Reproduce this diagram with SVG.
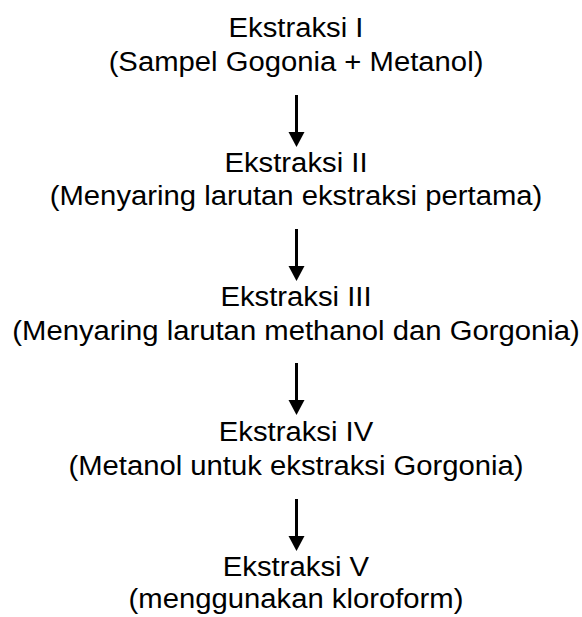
<svg xmlns="http://www.w3.org/2000/svg" width="582" height="617" viewBox="0 0 582 617">
  <style>
    .lbl { font-family: "Liberation Sans", Arial, Helvetica, sans-serif; font-size: 28px; fill: #000; text-anchor: middle; }
    .shaft { stroke: #000; stroke-width: 3; fill: none; }
    .head { fill: #000; stroke: none; }
  </style>
  <rect x="0" y="0" width="582" height="617" fill="#fff"/>
  <g transform="translate(296,0) scale(1.045,1)">
    <g id="node1">
      <text class="lbl" x="0" y="36.8">Ekstraksi I</text>
      <text class="lbl" x="0" y="70.8">(Sampel Gogonia + Metanol)</text>
    </g>
    <g id="node2">
      <text class="lbl" x="0" y="171.8">Ekstraksi II</text>
      <text class="lbl" x="0" y="205.3">(Menyaring larutan ekstraksi pertama)</text>
    </g>
    <g id="node3">
      <text class="lbl" x="0" y="306.5">Ekstraksi III</text>
      <text class="lbl" x="0" y="340.5">(Menyaring larutan methanol dan Gorgonia)</text>
    </g>
    <g id="node4">
      <text class="lbl" x="0" y="441">Ekstraksi IV</text>
      <text class="lbl" x="0" y="474.8">(Metanol untuk ekstraksi Gorgonia)</text>
    </g>
    <g id="node5">
      <text class="lbl" x="0" y="575.8">Ekstraksi V</text>
      <text class="lbl" x="0" y="608.5">(menggunakan kloroform)</text>
    </g>
  </g>
  <g id="connectors">
    <line class="shaft" x1="296.5" y1="95" x2="296.5" y2="134"/>
    <polygon class="head" points="288.5,132 304.5,132 296.5,147"/>
    <line class="shaft" x1="296.5" y1="229" x2="296.5" y2="268"/>
    <polygon class="head" points="288.5,266 304.5,266 296.5,281"/>
    <line class="shaft" x1="296.5" y1="363" x2="296.5" y2="402"/>
    <polygon class="head" points="288.5,400 304.5,400 296.5,415"/>
    <line class="shaft" x1="296.5" y1="499" x2="296.5" y2="538"/>
    <polygon class="head" points="288.5,536 304.5,536 296.5,551"/>
  </g>
</svg>
